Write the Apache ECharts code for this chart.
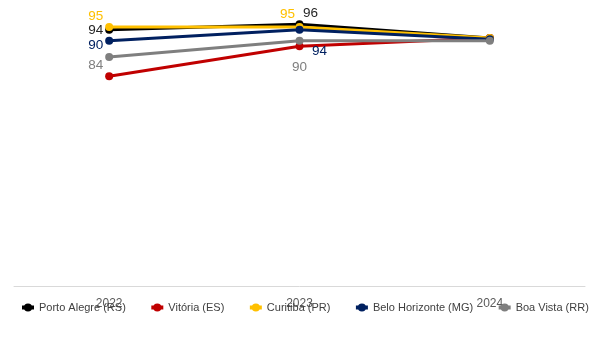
<!DOCTYPE html>
<html>
<head>
<meta charset="utf-8">
<script src="https://cdn.jsdelivr.net/npm/echarts@6/dist/echarts.min.js"></script>
<style>html,body{margin:0;padding:0;background:#fff}#c{width:600px;height:350px}</style>
</head>
<body>
<div id="c"></div>
<script>
const categories = ['2022', '2023', '2024'];
const seriesNames = ['Porto Alegre (RS)', 'Vitória (ES)', 'Curitiba (PR)', 'Belo Horizonte (MG)', 'Boa Vista (RR)'];
const portoAlegre = [94, 96, 91];
const vitoria = [77, 88, 91];
const curitiba = [95, 95, 91];
const beloHorizonte = [90, 94, 90.5];
const boaVista = [84, 90, 90];
const shownLabels = [
  [true, true, false],
  [false, false, false],
  [true, true, false],
  [true, true, false],
  [true, true, false]
];

const colors = ['#000000', '#c00000', '#ffc000', '#002060', '#7f7f7f'];
const labelColors = ['#262626', '#c00000', '#ffc000', '#002060', '#7f7f7f'];
const values = [portoAlegre, vitoria, curitiba, beloHorizonte, boaVista];
// label placement per series per point: [position, offset]
const placement = [
  [['left', [0, 1]], ['top', [11, 2]], null],
  [null, null, null],
  [['left', [0, -11]], ['top', [-12, 0]], null],
  [['left', [0, 5]], ['bottom', [20, 9]], null],
  [['left', [0, 8]], ['bottom', [0, 14]], null]
];

const series = values.map((vals, si) => ({
  name: seriesNames[si],
  type: 'line',
  symbol: 'circle',
  symbolSize: 8,
  lineStyle: { width: 3, color: colors[si] },
  itemStyle: { color: colors[si] },
  data: vals.map((v, i) => {
    const p = placement[si][i];
    return {
      value: v,
      label: shownLabels[si][i] && p ? {
        show: true,
        position: p[0],
        offset: p[1],
        distance: 2,
        color: labelColors[si],
        fontSize: 13.5,
        fontFamily: 'Liberation Sans'
      } : { show: false }
    };
  })
}));

const chart = echarts.init(document.getElementById('c'), null, { renderer: 'canvas' });
chart.setOption({
  animation: false,
  color: colors,
  grid: { left: 14, right: 15, top: 13.4, bottom: 63.6, containLabel: false },
  legend: {
    data: seriesNames,
    top: 302,
    left: 20,
    width: 600,
    padding: 0,
    itemGap: 23.5,
    itemWidth: 12,
    itemHeight: 10,
    lineStyle: { width: 4 },
    textStyle: { color: '#404040', fontSize: 11, fontFamily: 'Liberation Sans' }
  },
  xAxis: {
    type: 'category',
    data: categories,
    boundaryGap: true,
    axisLine: { lineStyle: { color: '#d9d9d9', width: 1 } },
    axisTick: { show: false },
    axisLabel: { color: '#595959', fontSize: 12, margin: 11, fontFamily: 'Liberation Sans' }
  },
  yAxis: {
    type: 'value',
    min: 0,
    max: 100,
    show: false,
    splitLine: { show: false }
  },
  series: series
});
</script>
</body>
</html>
